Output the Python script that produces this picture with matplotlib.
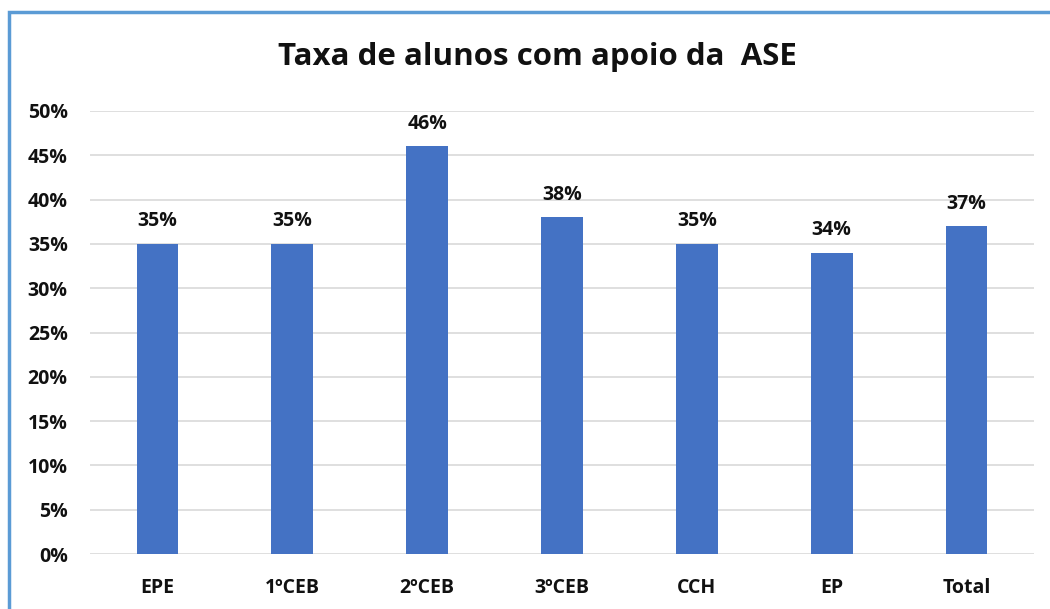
import matplotlib
matplotlib.use("Agg")
import matplotlib.pyplot as plt
from matplotlib.patches import Rectangle
from matplotlib.ticker import PercentFormatter

# Dados
categorias = ["EPE", "1ºCEB", "2ºCEB", "3ºCEB", "CCH", "EP", "Total"]
taxas = [35, 35, 46, 38, 35, 34, 37]
yticks = [0, 5, 10, 15, 20, 25, 30, 35, 40, 45, 50]

plt.rcParams['font.family'] = ['Open Sans', 'DejaVu Sans']

fig = plt.figure(figsize=(10.5, 6.09), dpi=100)
ax = fig.add_axes([90/1050, 55/609, 944/1050, 443/609])

x = range(len(categorias))
ax.bar(x, taxas, width=0.31, color="#4472C4", zorder=3)
for xi, v in zip(x, taxas):
    ax.text(xi, v + 1.4, f"{v}%", ha="center", va="bottom",
            fontsize=14, fontweight="bold", color="#111111")

ax.set_xlim(-0.5, len(categorias) - 0.5)
ax.set_ylim(0, 50)
ax.set_yticks(yticks)
ax.yaxis.set_major_formatter(PercentFormatter(decimals=0))
ax.set_xticks(list(x))
ax.set_xticklabels(categorias)
ax.grid(axis="y", color="#D9D9D9", linewidth=1.2, zorder=0)
for s in ax.spines.values():
    s.set_visible(False)
ax.tick_params(length=0, labelsize=14, labelcolor="#111111")
ax.tick_params(axis="y", pad=16)
ax.tick_params(axis="x", pad=17)
for lab in ax.get_xticklabels() + ax.get_yticklabels():
    lab.set_fontweight("bold")

fig.text(537/1050, 1 - 57/609, "Taxa de alunos com apoio da  ASE", ha="center",
         va="center", fontsize=22.5, fontweight="bold", color="#111111")

# moldura do gráfico
fig.patches.append(Rectangle((9/1050, -0.1), 1.2, (609 - 12)/609 + 0.1,
                             transform=fig.transFigure, fill=False,
                             edgecolor="#5B9BD5", linewidth=2.5))

fig.savefig("out.png", dpi=100)
